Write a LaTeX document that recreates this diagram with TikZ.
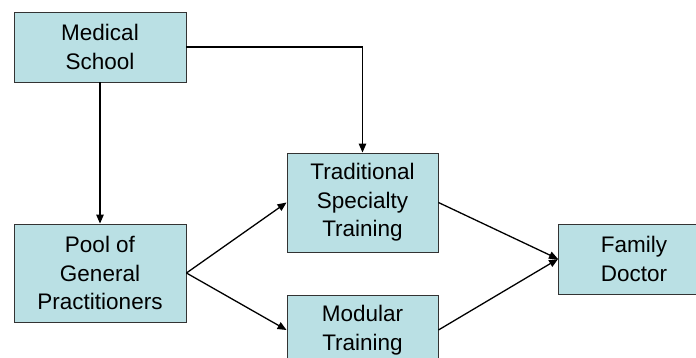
\documentclass[tikz,border=0pt]{standalone}
\usepackage{fontspec}
\setmainfont{Liberation Sans}
\usetikzlibrary{arrows.meta}
\definecolor{boxfill}{RGB}{186,224,228}
\tikzset{
  box/.style={draw=black!80, line width=0.9pt, fill=boxfill, align=center, inner sep=0pt,
    font=\fontsize{22.5}{28.5}\selectfont},
  flow/.style={line width=1.3pt, -{Triangle[length=9pt, width=7.5pt]}}
}

\begin{document}
\begin{tikzpicture}[x=1pt, y=-1pt]

\def\wide{172}
\def\narrow{151}
\useasboundingbox (0,0) rectangle (696,358);

\node[box, minimum width=\wide pt, minimum height=70pt] (med) at (100,47) {Medical\\School};
\node[box, minimum width=\wide pt, minimum height=98pt] (pool) at (100,273) {Pool of\\General\\Practitioners};
\node[box, minimum width=\narrow pt, minimum height=99pt] (trad) at (362.5,202.5) {Traditional\\Specialty\\Training};
\node[box, minimum width=\narrow pt, minimum height=70pt] (mod) at (362.5,330) {Modular\\Training};
\node[box, minimum width=\narrow pt, minimum height=70pt] (fam) at (634,259) {Family\\Doctor};

  \draw[flow] (med.south) -- (pool.north);
  \draw[flow] (med.east) -| (trad.north);
  \draw[flow] (pool.east) -- (trad.west);
  \draw[flow] (pool.east) -- (mod.west);
  \draw[flow] (trad.east) -- (fam.west);
  \draw[flow] (mod.east) -- (fam.west);

\end{tikzpicture}
\end{document}
